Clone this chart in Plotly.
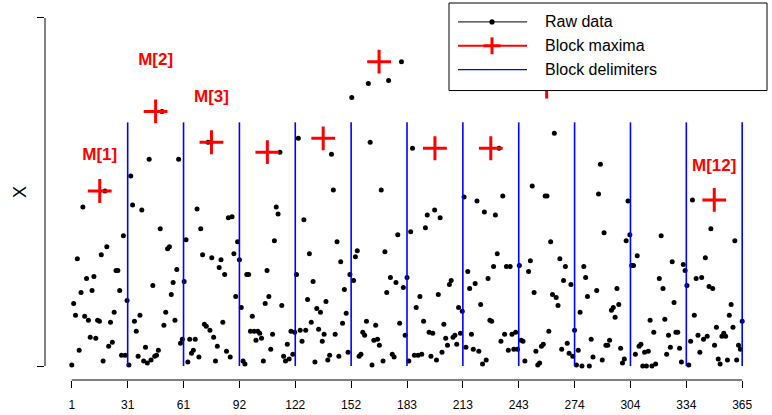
import numpy as np
import plotly.graph_objects as go

# ---- data ----
block1_values = [1, 63, 51, 108, 16, 74, 160, 50, 88, 46, 29, 76, 90, 28, 46, 45, 112, 5, 176, 120,
                 20, 44, 24, 54, 96, 96, 76, 11, 131, 11, 66]
block2_values = [1, 191, 162, 45, 35, 10, 51, 157, 5, 19, 3, 208, 6, 81, 10, 11, 16, 138, 256, 41,
                 54, 118, 120, 72, 84, 46, 97, 208, 23, 27]
block3_values = [85, 127, 4, 27, 13, 16, 27, 158, 9, 138, 112, 42, 40, 225, 36, 109, 29, 5, 20, 99,
                 107, 44, 92, 15, 149, 9, 150, 113, 70, 125, 107]
block4_values = [59, 5, 2, 92, 92, 35, 50, 35, 26, 35, 33, 28, 5, 63, 96, 70, 17, 32, 126, 160,
                 153, 215, 61, 10, 5, 22, 7, 35, 12, 34]
block5_values = [92, 229, 36, 25, 147, 36, 67, 113, 44, 85, 4, 58, 37, 54, 25, 32, 65, 6, 11, 213,
                 177, 32, 125, 10, 105, 43, 77, 53, 14, 92]
block6_values = [270, 86, 110, 116, 10, 12, 34, 31, 45, 284, 225, 1, 26, 41, 27, 21, 177, 5, 115, 74,
                 287, 89, 12, 9, 84, 132, 43, 306, 79, 31, 89]
block7_values = [5, 135, 219, 11, 59, 11, 70, 12, 45, 139, 152, 34, 10, 33, 157, 6, 72, 149, 14, 42,
                 28, 21, 82, 86, 29, 31, 22, 59, 33, 55]
block8_values = [170, 19, 95, 78, 32, 17, 83, 166, 15, 62, 2, 155, 6, 88, 46, 45, 100, 152, 113, 219,
                 25, 171, 32, 100, 16, 100, 32, 17, 34, 17]
block9_values = [101, 26, 25, 5, 281, 95, 106, 181, 74, 15, 1, 3, 20, 22, 171, 171, 35, 125, 72, 234,
                 69, 61, 108, 17, 86, 100, 23, 13, 82, 10, 36]
block10_values = [1, 16, 54, 0, 100, 89, 70, 0, 27, 9, 350, 76, 173, 203, 6, 134, 21, 21, 26, 56,
                  59, 49, 78, 62, 18, 3, 7, 126, 166, 132]
block11_values = [101, 101, 12, 111, 20, 22, 0, 14, 0, 15, 46, 0, 34, 2, 300, 88, 131, 78, 47, 12,
                  31, 19, 105, 64, 34, 34, 18, 4, 102, 96]
block12_values = [81, 1, 25, 167, 51, 88, 31, 14, 89, 27, 109, 30, 80, 138, 78, 21, 39, 7, 2, 30,
                  33, 30, 6, 51, 62, 39, 126, 6, 21, 17, 45]

tick_labels = [1, 31, 61, 92, 122, 152, 183, 213, 243, 274, 304, 334, 365]
labelled_blocks = [1, 2, 3, 12]
legend_labels = ["Raw data", "Block maxima", "Block delimiters"]

raw = np.array(block1_values + block2_values + block3_values + block4_values + block5_values +
               block6_values + block7_values + block8_values + block9_values + block10_values +
               block11_values + block12_values, dtype=float)
n = len(raw)
days = np.arange(1, n + 1)
nblocks = 12
delims = np.linspace(1, n, nblocks + 1)

block_max, mids = [], []
for k in range(nblocks):
    lo, hi = delims[k], delims[k + 1]
    mask = (days >= lo) & ((days < hi) if k < nblocks - 1 else (days <= hi))
    block_max.append(raw[mask].max())
    mids.append((lo + hi) / 2)
block_max = np.array(block_max)
mids = np.array(mids)

vmin, vmax = raw.min(), raw.max()
xr = [1 - 0.04 * (n - 1), n + 0.04 * (n - 1)]
yr = [vmin - 0.04 * (vmax - vmin), vmax + 0.04 * (vmax - vmin)]

FONT = "Liberation Sans, Arial, Helvetica, sans-serif"
W, H = 772, 415
ML, MR, MT, MB = 45, 3, 4, 33
PW, PH = W - ML - MR, H - MT - MB


def px(x):
    return (x - ML) / PW


def py(y):
    return (MT + PH - y) / PH


fig = go.Figure()

# raw data
fig.add_trace(go.Scatter(x=days, y=raw, mode="markers",
                         marker=dict(color="black", size=5, line=dict(width=0)),
                         hoverinfo="skip"))

# block delimiters
lx, ly = [], []
for d in delims[1:]:
    lx += [d, d, None]
    ly += [vmin, 0.7 * vmax, None]
fig.add_trace(go.Scatter(x=lx, y=ly, mode="lines", line=dict(color="#0000FF", width=1.6),
                         hoverinfo="skip"))

# block maxima
fig.add_trace(go.Scatter(x=mids, y=block_max, mode="markers",
                         marker=dict(symbol="cross-thin", size=17, color="#FF0000",
                                     line=dict(color="#FF0000", width=3)),
                         hoverinfo="skip"))

# labels
lab_idx = [b - 1 for b in labelled_blocks]
fig.add_trace(go.Scatter(x=mids[lab_idx], y=1.2 * block_max[lab_idx], mode="text",
                         text=["<b>M[%d]</b>" % b for b in labelled_blocks],
                         textposition="middle center",
                         textfont=dict(family=FONT, size=17, color="#FF0000"),
                         hoverinfo="skip"))

shapes = []
# axis lines (R style: only between first and last tick)
shapes.append(dict(type="line", xref="x", yref="paper", x0=1, x1=n, y0=0, y1=0,
                   line=dict(color="black", width=1)))
shapes.append(dict(type="line", xref="paper", yref="y", x0=0, x1=0, y0=vmin, y1=vmax,
                   line=dict(color="black", width=1)))

# legend box
lg_l, lg_r, lg_t, lg_b = 449, 767, 3, 91
shapes.append(dict(type="rect", xref="paper", yref="paper", x0=px(lg_l), x1=px(lg_r),
                   y0=py(lg_b), y1=py(lg_t), fillcolor="white",
                   line=dict(color="black", width=1), layer="above"))
rows = [22, 46, 70]
sx0, sx1, sxc = 458, 527, 492
shapes.append(dict(type="line", xref="paper", yref="paper", x0=px(sx0), x1=px(sx1),
                   y0=py(rows[0]), y1=py(rows[0]), line=dict(color="black", width=1), layer="above"))
r = 2.6
shapes.append(dict(type="circle", xref="paper", yref="paper", x0=px(sxc - r), x1=px(sxc + r),
                   y0=py(rows[0] + r), y1=py(rows[0] - r), fillcolor="black",
                   line=dict(color="black", width=0), layer="above"))
shapes.append(dict(type="line", xref="paper", yref="paper", x0=px(sx0), x1=px(sx1),
                   y0=py(rows[1]), y1=py(rows[1]), line=dict(color="#FF0000", width=2), layer="above"))
c = 8.5
shapes.append(dict(type="line", xref="paper", yref="paper", x0=px(sxc - c), x1=px(sxc + c),
                   y0=py(rows[1]), y1=py(rows[1]), line=dict(color="#FF0000", width=3), layer="above"))
shapes.append(dict(type="line", xref="paper", yref="paper", x0=px(sxc), x1=px(sxc),
                   y0=py(rows[1] - c), y1=py(rows[1] + c), line=dict(color="#FF0000", width=3),
                   layer="above"))
shapes.append(dict(type="line", xref="paper", yref="paper", x0=px(sx0), x1=px(sx1),
                   y0=py(rows[2]), y1=py(rows[2]), line=dict(color="#0000FF", width=1.3), layer="above"))

annotations = []
for lab, ry in zip(legend_labels, rows):
    annotations.append(dict(xref="paper", yref="paper", x=px(543), y=py(ry), text=lab,
                            showarrow=False, xanchor="left", yanchor="middle",
                            font=dict(family=FONT, size=16, color="black")))
annotations.append(dict(xref="paper", yref="paper", x=px(20), y=py(193), text="X",
                        showarrow=False, textangle=-90, xanchor="center", yanchor="middle",
                        font=dict(family=FONT, size=18, color="black")))

fig.update_layout(
    width=W, height=H,
    margin=dict(l=ML, r=MR, t=MT, b=MB, pad=0),
    plot_bgcolor="white", paper_bgcolor="white",
    showlegend=False,
    shapes=shapes, annotations=annotations,
    xaxis=dict(range=xr, tickmode="array", tickvals=delims, ticktext=[str(t) for t in tick_labels],
               ticks="outside", ticklen=7, tickwidth=1, tickcolor="black",
               ticklabelstandoff=7,
               showline=False, showgrid=False, zeroline=False,
               tickfont=dict(family=FONT, size=12, color="black")),
    yaxis=dict(range=yr, tickmode="array", tickvals=[vmin, vmax], ticks="outside",
               ticklen=7, tickwidth=1, tickcolor="black", showticklabels=False,
               showline=False, showgrid=False, zeroline=False),
)

fig.write_html("out.html", config={"displayModeBar": False},
               post_script="document.body.style.margin='0';document.body.style.overflow='hidden';")
